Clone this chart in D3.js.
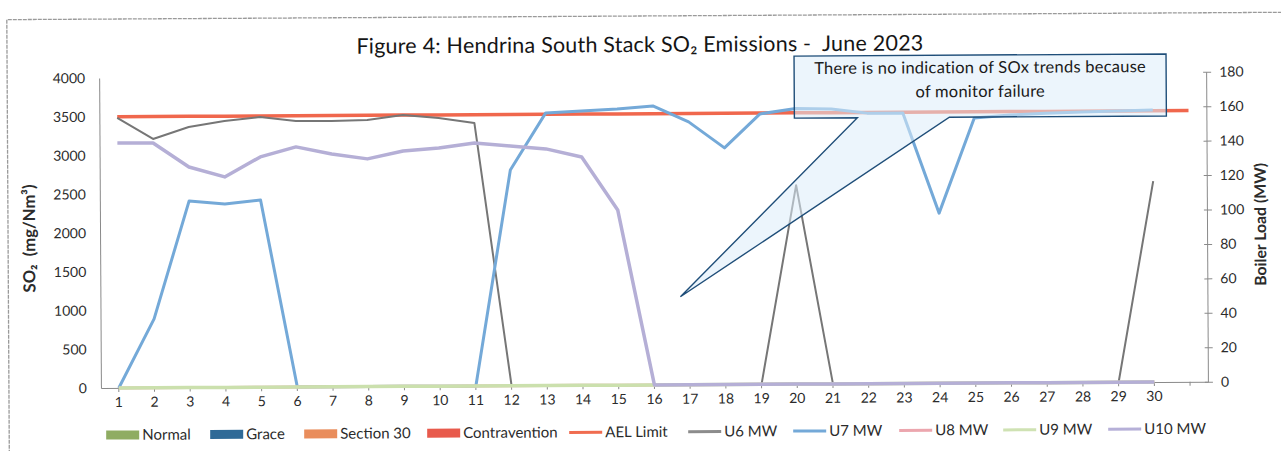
<!DOCTYPE html>
<html><head><meta charset="utf-8">
<script src="https://cdn.jsdelivr.net/npm/d3@7"></script>
<style>
html,body{margin:0;padding:0;background:#fff;}
svg{display:block;font-family:Lato,"Noto Sans",sans-serif;}
</style>
</head><body>
<svg id="c" width="1281" height="451"></svg>
<script>
// ---------------- data ----------------
const categories = [1,2,3,4,5,6,7,8,9,10,11,12,13,14,15,16,17,18,19,20,21,22,23,24,25,26,27,28,29,30,31];
const days = [1,2,3,4,5,6,7,8,9,10,11,12,13,14,15,16,17,18,19,20,21,22,23,24,25,26,27,28,29,30];
const leftTicks = [0,500,1000,1500,2000,2500,3000,3500,4000];
const rightTicks = [0,20,40,60,80,100,120,140,160,180];
const aelLimit = [3500,3500,3500,3500,3500,3500,3500,3500,3500,3500,3500,3500,3500,3500,3500,3500,3500,3500,3500,3500,3500,3500,3500,3500,3500,3500,3500,3500,3500,3500,3500];
const u6 = [156.8,144.5,151.3,154.7,156.9,154.5,154.3,154.8,157.6,155.7,152.7,0,0,0,0,0,0,0,0,115.5,0,0,0,0,0,0,0,0,0,116.7];
const u7 = [0,40,108.4,106.5,108.7,0,0,0,0,0,0,125.3,158.3,159.3,160.4,162,152.6,137.4,157,160,159.6,157.1,157,98.8,153.9,155.5,156.5,157,157.5,158];
const u8 = [0,0,0,0,0,0,0,0,0,0,0,0,0,0,0,0,0,0,0,0,0,0,0,0,0,0,0,0,0,0];
const u9 = [0,0,0,0,0,0,0,0,0,0,0,0,0,0,0,0,0,0,0,0,0,0,0,0,0,0,0,0,0,0];
const u10 = [142.3,142.1,128.1,122.2,133.7,139.4,135.2,132.2,136.7,138.3,141.1,139.2,137.4,132.6,101.7,0,0,0,0,0,0,0,0,0,0,0,0,0,0,0];
const legendNames = ["Normal","Grace","Section 30","Contravention","AEL Limit","U6 MW","U7 MW","U8 MW","U9 MW","U10 MW"];
const titleText = "Figure 4: Hendrina South Stack SO\u2082 Emissions -  June 2023";
const calloutLines = ["There is no indication of SOx trends because","of monitor failure"];

// ---------------- drawing ----------------
const svg = d3.select("#c");
svg.append("rect").attr("width",1281).attr("height",451).attr("fill","#fff");
const g = svg.append("g").attr("transform","rotate(-0.33,640,225)");

function fit(sel, target){
  const n = sel.node();
  const fs = parseFloat(sel.attr("font-size"));
  const w = n.getComputedTextLength();
  sel.attr("font-size", (fs*target/w).toFixed(2));
}
function fitLS(sel, target){
  const n = sel.node();
  const w = n.getComputedTextLength();
  const chars = sel.text().length;
  sel.attr("letter-spacing", ((target-w)/chars).toFixed(3));
}

// frame
g.append("path").attr("d","M8,460V16H1295").attr("fill","none")
  .attr("stroke","#9a9a9a").attr("stroke-width",1.3).attr("stroke-dasharray","4,1");

const x = d3.scaleBand().domain(categories).range([100,1207]);
const cx = d => x(d) + x.bandwidth()/2;
const yL = d3.scaleLinear().domain([0,4000]).range([385,75]);
const yR = d3.scaleLinear().domain([0,180]).range([385,75]);

const axisColor = "#8a8a8a", textColor = "#2b2b2b";

// left axis
const gl = g.append("g").attr("transform","translate(100,0)")
  .call(d3.axisLeft(yL).tickValues(leftTicks).tickFormat(d3.format("d")).tickSize(0).tickSizeOuter(0).tickPadding(14));
gl.select(".domain").attr("stroke",axisColor);
gl.selectAll("text").attr("font-size",14).attr("fill",textColor).attr("font-family","Lato");

// right axis
const gr = g.append("g").attr("transform","translate(1207,0)")
  .call(d3.axisRight(yR).tickValues(rightTicks).tickFormat(d3.format("d")).tickSize(5).tickSizeOuter(0).tickPadding(8));
gr.select(".domain").attr("stroke",axisColor);
gr.selectAll(".tick line").attr("stroke",axisColor).attr("x1",-3);
gr.selectAll("text").attr("font-size",14).attr("fill",textColor).attr("font-family","Lato");

// bottom axis
const gb = g.append("g").attr("transform","translate(0,385)")
  .call(d3.axisBottom(x).tickFormat(d => d <= 30 ? d : "").tickSize(4).tickSizeOuter(0).tickPadding(5));
gb.select(".domain").attr("stroke",axisColor);
gb.selectAll(".tick line").attr("stroke",axisColor);
gb.selectAll("text").attr("font-size",14).attr("fill",textColor).attr("font-family","Lato");

// axis titles
const lt = g.append("text").attr("transform","translate(35,235) rotate(-90)")
  .attr("text-anchor","middle").attr("font-weight","bold").attr("font-size",14)
  .attr("fill",textColor).style("white-space","pre").text("SO\u2082  (mg/Nm\u00b3)");
fit(lt,108);
const rt = g.append("text").attr("transform","translate(1266,228) rotate(-90)")
  .attr("text-anchor","middle").attr("font-weight","bold").attr("font-size",14)
  .attr("fill",textColor).text("Boiler Load (MW)");
fit(rt,123);

// title
const tt = g.append("text").attr("x",641).attr("y",52).attr("text-anchor","middle")
  .attr("font-size",21.5).attr("fill","#151515").style("white-space","pre").text(titleText);
fitLS(tt,567);

// series lines
const lineR = d3.line().x((d,i) => cx(days[i])).y(d => yR(d));
const lineL = d3.line().x((d,i) => cx(categories[i])).y(d => yL(d));
g.append("path").attr("d",lineL(aelLimit)).attr("fill","none").attr("stroke","#f0674d").attr("stroke-width",3.5);
const series = [
  {v:u6, c:"#767676", w:2},
  {v:u7, c:"#74a9d8", w:3},
  {v:u8, c:"#eca6ae", w:3},
  {v:u9, c:"#cbe0ad", w:3.5},
  {v:u10, c:"#b5afd6", w:3.5}
];
series.forEach(s => {
  g.append("path").attr("d",lineR(s.v)).attr("fill","none")
    .attr("stroke",s.c).attr("stroke-width",s.w).attr("stroke-linejoin","round");
});

// callout
g.append("path").attr("d","M795,57H1167V119H950L680,297L858,119H795Z")
  .attr("fill","rgba(220,237,250,0.55)").attr("stroke","#1f4e79").attr("stroke-width",1.4);
const c1 = g.append("text").attr("x",981).attr("y",75).attr("text-anchor","middle")
  .attr("font-size",16.5).attr("fill","#1a1a1a").text(calloutLines[0]);
fitLS(c1,332);
const c2 = g.append("text").attr("x",981).attr("y",99).attr("text-anchor","middle")
  .attr("font-size",16.5).attr("letter-spacing",c1.attr("letter-spacing")).attr("fill","#1a1a1a").text(calloutLines[1]);

// legend
const legendX = [105,209,303,426,568,687,792,898,1002,1107];
const legendType = ["rect","rect","rect","rect","line","line","line","line","line","line"];
const legendColor = ["#8fac62","#2f6a97","#e98d5c","#e85a4c","#f06c50","#8c8c8c","#74a9d8","#eca6ae","#cfe2b3","#b6b0d8"];
const ly = 432;
const lg = g.append("g");
legendNames.forEach((n,i) => {
  if (legendType[i] === "rect") {
    lg.append("rect").attr("x",legendX[i]).attr("y",ly-4.5).attr("width",33).attr("height",9).attr("fill",legendColor[i]);
  } else {
    lg.append("line").attr("x1",legendX[i]).attr("x2",legendX[i]+33).attr("y1",ly).attr("y2",ly)
      .attr("stroke",legendColor[i]).attr("stroke-width",3);
  }
  lg.append("text").attr("x",legendX[i]+36).attr("y",ly+5).attr("font-size",15)
    .attr("fill",textColor).text(n);
});
</script>
</body></html>
